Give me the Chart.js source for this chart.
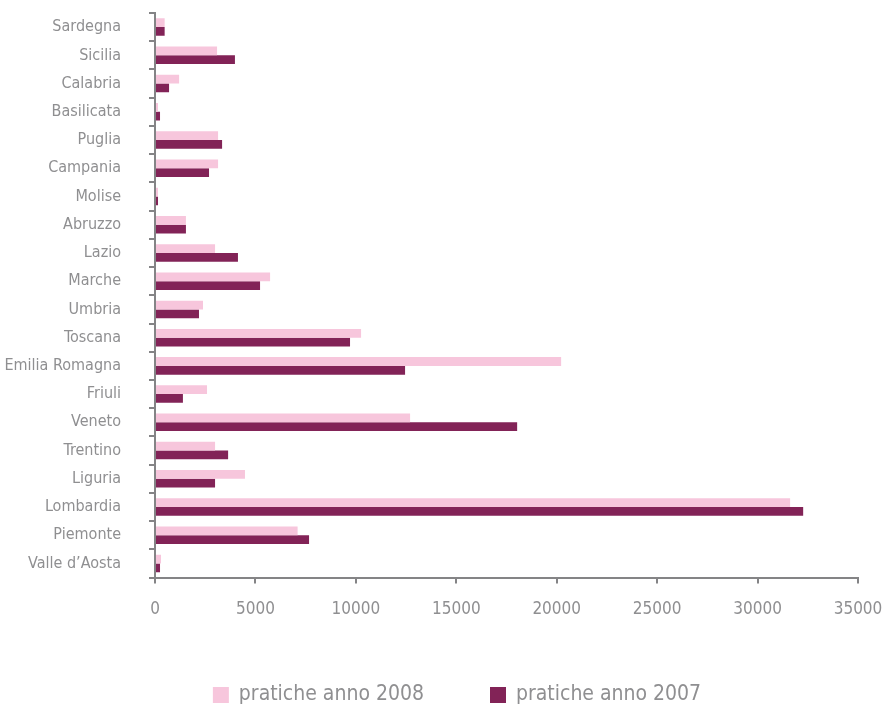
<!DOCTYPE html>
<html>
<head>
<meta charset="utf-8">
<title>Pratiche per regione</title>
<script src="https://cdn.jsdelivr.net/npm/chart.js@4/dist/chart.umd.min.js"></script>
<style>
	html, body { margin: 0; padding: 0; background: #fff; }
	#wrap { width: 887px; height: 710px; }
</style>
</head>
<body>
<div id="wrap"><canvas id="chart"></canvas></div>
<script>
'use strict';

const regioni = ['Sardegna', 'Sicilia', 'Calabria', 'Basilicata', 'Puglia', 'Campania', 'Molise',
	'Abruzzo', 'Lazio', 'Marche', 'Umbria', 'Toscana', 'Emilia Romagna', 'Friuli', 'Veneto',
	'Trentino', 'Liguria', 'Lombardia', 'Piemonte', 'Valle d\u2019Aosta'];

const pratiche2008 = [480, 3090, 1200, 150, 3140, 3140, 150, 1540, 2990, 5730, 2390, 10260,
	20220, 2590, 12700, 2990, 4480, 31620, 7100, 300];
const pratiche2007 = [480, 3980, 700, 250, 3340, 2690, 150, 1540, 4130, 5230, 2190, 9710,
	12450, 1390, 18030, 3640, 2990, 32270, 7670, 250];

const serieLabels = ['pratiche anno 2008', 'pratiche anno 2007'];
const xMax = 35000;
const xStep = 5000;

const grigio = '#8f8f91';
const asse = '#848486';
const fontFam = '"Liberation Sans Narrow", "DejaVu Sans Condensed", sans-serif';

// legenda disegnata a mano: quadratino + testo, centrata sotto il grafico
const legendaBassa = {
	id: 'legendaBassa',
	afterDraw(chart) {
		const ctx = chart.ctx;
		const size = 21, box = 16, gapTxt = 10, gapItem = 66, yMid = 695;
		ctx.save();
		ctx.font = size + 'px ' + fontFam;
		ctx.textBaseline = 'middle';
		ctx.textAlign = 'left';
		const items = chart.data.datasets.map(ds => ({
			text: ds.label, color: ds.backgroundColor, w: ctx.measureText(ds.label).width
		}));
		const total = items.reduce((s, it) => s + box + gapTxt + it.w, 0) + gapItem * (items.length - 1);
		let x = 457 - total / 2;
		items.forEach(it => {
			ctx.fillStyle = it.color;
			ctx.fillRect(x, yMid - box / 2, box, box);
			x += box + gapTxt;
			ctx.fillStyle = grigio;
			ctx.fillText(it.text, x, yMid);
			x += it.w + gapItem;
		});
		ctx.restore();
	}
};

new Chart(document.getElementById('chart'), {
	type: 'bar',
	data: {
		labels: regioni,
		datasets: [
			{ label: serieLabels[0], data: pratiche2008, backgroundColor: '#f7c6dc' },
			{ label: serieLabels[1], data: pratiche2007, backgroundColor: '#822357' }
		]
	},
	options: {
		indexAxis: 'y',
		responsive: true,
		maintainAspectRatio: false,
		animation: false,
		categoryPercentage: 0.62,
		barPercentage: 1,
		layout: { padding: { top: 13, right: 29, left: 0, bottom: 74 } },
		plugins: {
			tooltip: { enabled: false },
			legend: { display: false }
		},
		scales: {
			x: {
				min: 0,
				max: xMax,
				afterFit: (scale) => {
					scale.paddingLeft = 0;
					scale.paddingRight = 0;
				},
				ticks: {
					stepSize: xStep, padding: 16, color: grigio,
					font: { family: fontFam, size: 17 },
					callback: (v) => String(v)
				},
				grid: { drawOnChartArea: false, tickLength: 6, color: asse, lineWidth: 2 },
				border: { color: asse, width: 2 }
			},
			y: {
				afterFit: (scale) => {
					scale.width = 155;
					scale.paddingTop = 0;
					scale.paddingBottom = 0;
				},
				ticks: { padding: 28, color: grigio, font: { family: fontFam, size: 16 } },
				grid: { offset: true, drawOnChartArea: false, tickLength: 6, color: asse, lineWidth: 2 },
				border: { color: asse, width: 2 }
			}
		}
	},
	plugins: [legendaBassa]
});
</script>
</body>
</html>
